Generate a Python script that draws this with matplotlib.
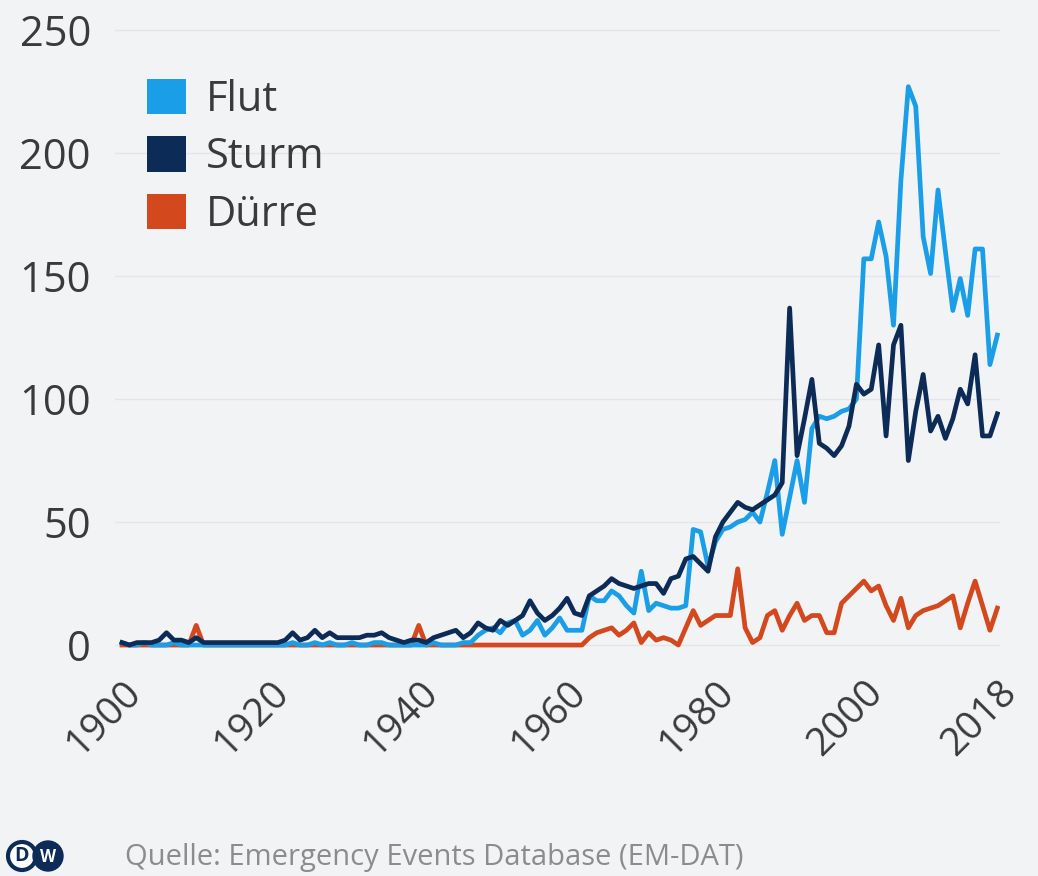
import numpy as np
import matplotlib.pyplot as plt
from matplotlib.patches import Patch, Circle

plt.rcParams['font.family'] = ['Open Sans', 'DejaVu Sans']

years = list(range(1900, 2019))

flut = [1, 0, 0, 1, 0, 0, 0, 1, 0, 0,          # 1900-1909
        0, 0, 0, 0, 0, 0, 0, 0, 0, 0,          # 1910-1919
        0, 0, 0, 1, 0, 0, 1, 0, 1, 0,          # 1920-1929
        0, 1, 0, 0, 1, 1, 0, 0, 0, 0,          # 1930-1939
        0, 0, 1, 0, 0, 0, 1, 1, 4, 6,          # 1940-1949
        7, 5, 9, 10, 4, 6, 10, 4, 7, 11,       # 1950-1959
        6, 6, 6, 20, 18, 18, 22, 20, 16, 13,   # 1960-1969
        30, 14, 17, 16, 15, 15, 16, 47, 46, 32,  # 1970-1979
        42, 47, 48, 50, 51, 54, 50, 62, 75, 45,  # 1980-1989
        60, 75, 58, 88, 93, 92, 93, 95, 96, 100,  # 1990-1999
        157, 157, 172, 158, 130, 189, 227, 219, 166, 151,  # 2000-2009
        185, 160, 136, 149, 134, 161, 161, 114, 126]       # 2010-2018

sturm = [1, 0, 1, 1, 1, 2, 5, 2, 2, 1,         # 1900-1909
         3, 1, 1, 1, 1, 1, 1, 1, 1, 1,         # 1910-1919
         1, 1, 2, 5, 2, 3, 6, 3, 5, 3,         # 1920-1929
         3, 3, 3, 4, 4, 5, 3, 2, 1, 2,         # 1930-1939
         2, 1, 3, 4, 5, 6, 3, 5, 9, 7,         # 1940-1949
         6, 10, 8, 10, 12, 18, 13, 10, 12, 15,  # 1950-1959
         19, 13, 12, 20, 22, 24, 27, 25, 24, 23,  # 1960-1969
         24, 25, 25, 21, 27, 28, 35, 36, 33, 30,  # 1970-1979
         44, 50, 54, 58, 56, 55, 57, 59, 61, 66,  # 1980-1989
         137, 77, 92, 108, 82, 80, 77, 81, 89, 106,  # 1990-1999
         102, 104, 122, 85, 122, 130, 75, 95, 110, 87,  # 2000-2009
         93, 84, 92, 104, 98, 118, 85, 85, 94]           # 2010-2018

duerre = [0, 0, 0, 0, 0, 0, 0, 0, 0, 0,        # 1900-1909
          8, 0, 0, 0, 0, 0, 0, 0, 0, 0,        # 1910-1919
          0, 0, 0, 0, 0, 0, 0, 0, 0, 0,        # 1920-1929
          0, 0, 0, 0, 0, 0, 0, 0, 0, 0,        # 1930-1939
          8, 0, 0, 0, 0, 0, 0, 0, 0, 0,        # 1940-1949
          0, 0, 0, 0, 0, 0, 0, 0, 0, 0,        # 1950-1959
          0, 0, 0, 3, 5, 6, 7, 4, 6, 9,        # 1960-1969
          1, 5, 2, 3, 2, 0, 7, 14, 8, 10,      # 1970-1979
          12, 12, 12, 31, 7, 1, 3, 12, 14, 6,  # 1980-1989
          12, 17, 10, 12, 12, 5, 5, 17, 20, 23,  # 1990-1999
          26, 22, 24, 16, 10, 19, 7, 12, 14, 15,  # 2000-2009
          16, 18, 20, 7, 17, 26, 16, 6, 15]       # 2010-2018

xticks = [1900, 1920, 1940, 1960, 1980, 2000, 2018]
yticks = [0, 50, 100, 150, 200, 250]
names = ['Flut', 'Sturm', 'Dürre']
colors = ['#1b9ee8', '#0c2b57', '#d4481e']
source = 'Quelle: Emergency Events Database (EM-DAT)'

bg = '#f2f3f5'
txt = '#3a3a3a'
fig = plt.figure(figsize=(10.38, 8.76), dpi=100, facecolor=bg)
ax = fig.add_axes([0.1104, 0.2468, 0.8533, 0.7301], facecolor=bg)

# Dürre at the bottom, Sturm on top
ax.plot(years, duerre, color=colors[2], lw=3.4, zorder=3)
ax.plot(years, flut, color=colors[0], lw=3.4, zorder=4)
ax.plot(years, sturm, color=colors[1], lw=3.4, zorder=5)

ax.set_xlim(1899, 2018.4)
ax.set_ylim(-6, 254)
ax.set_yticks(yticks)
ax.set_xticks(xticks)
ax.set_xticklabels([str(t) for t in xticks], rotation=45, ha='right',
                   rotation_mode='anchor')
ax.tick_params(axis='y', length=0, pad=17, labelsize=30, labelcolor=txt)
ax.tick_params(axis='x', length=0, pad=10, labelsize=28, labelcolor=txt)
for s in ax.spines.values():
    s.set_visible(False)
ax.grid(axis='y', color='#e4e5e8', lw=1)
ax.set_axisbelow(True)

handles = [Patch(facecolor=c, edgecolor='none', label=n) for n, c in zip(names, colors)]
leg = ax.legend(handles=handles, loc='upper left', frameon=False, fontsize=30,
                handlelength=0.93, handleheight=0.93, handletextpad=0.48,
                labelspacing=0.37, borderpad=0, borderaxespad=0,
                bbox_to_anchor=(147 / 1038, 1 - 79 / 876),
                bbox_transform=fig.transFigure)
for t in leg.get_texts():
    t.set_color(txt)

# DW logo
lax = fig.add_axes([6 / 1038, 0 / 876, 60 / 1038, 42 / 876])
lax.set_xlim(0, 60)
lax.set_ylim(0, 42)
lax.set_aspect('equal')
lax.axis('off')
lax.add_patch(Circle((16, 20), 14, facecolor='white', edgecolor='#0c2b57', lw=3))
lax.add_patch(Circle((42, 20), 15, facecolor='#0c2b57', edgecolor='#0c2b57', lw=1))
lax.text(16, 20, 'D', ha='center', va='center', fontsize=14, fontweight='bold',
         color='#0c2b57')
lax.text(42, 19.5, 'W', ha='center', va='center', fontsize=12, fontweight='bold',
         color='white')

fig.text(125 / 1038, 1 - 858 / 876, source, ha='left', va='center',
         fontsize=21, color='#8c8c8c')

plt.savefig('out.png', dpi=100, facecolor=bg)
